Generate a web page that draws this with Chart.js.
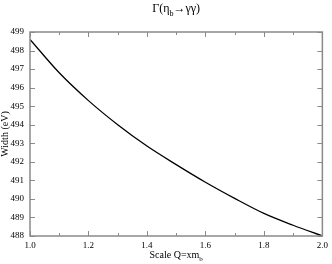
<!DOCTYPE html>
<html><head><meta charset="utf-8">
<script src="https://cdn.jsdelivr.net/npm/chart.js@4/dist/chart.umd.min.js"></script>
<style>html,body{margin:0;padding:0;background:#fff}#c{display:block}</style>
</head><body>
<canvas id="c" width="332" height="264"></canvas>
<script>
const scaleQ = [1.0, 1.1, 1.2, 1.3, 1.4, 1.5, 1.6, 1.7, 1.8, 1.9, 2.0];
const widthEV = [498.6, 496.8, 495.3, 494.0, 492.85, 491.85, 490.9, 490.03, 489.22, 488.58, 488.0];
const xMajorTicks = [1.0, 1.2, 1.4, 1.6, 1.8, 2.0];
const xMinorTicks = [1.1, 1.3, 1.5, 1.7, 1.9];
const yTicks = [488, 489, 490, 491, 492, 493, 494, 495, 496, 497, 498, 499];
const titleMain = ['Γ(η', 'b', '→γγ)'];
const xTitleParts = ['Scale Q=xm', 'b'];
const yTitle = 'Width (eV)';

const SERIF = '"Liberation Serif", "DejaVu Serif", serif';
const FRAME = '#8a8a8a';

function drawSubText(ctx, parts, cx, baseline, size) {
  const mainFont = size + 'px ' + SERIF;
  const subFont = Math.round(size * 0.7) + 'px ' + SERIF;
  let w = 0;
  const segs = parts.map((t, i) => ({t, sub: i % 2 === 1}));
  segs.forEach(s => { ctx.font = s.sub ? subFont : mainFont; s.w = ctx.measureText(s.t).width; w += s.w; });
  let x = cx - w / 2;
  ctx.textAlign = 'left';
  ctx.textBaseline = 'alphabetic';
  segs.forEach(s => {
    ctx.font = s.sub ? subFont : mainFont;
    ctx.fillText(s.t, x, baseline + (s.sub ? size * 0.3 : 0));
    x += s.w;
  });
}

const framePlugin = {
  id: 'frameTicks',
  afterDraw(chart) {
    const {ctx, chartArea: a, scales: {x, y}} = chart;
    ctx.save();
    ctx.strokeStyle = FRAME;
    ctx.lineWidth = 1.5;
    ctx.strokeRect(a.left, a.top, a.right - a.left, a.bottom - a.top);
    ctx.lineWidth = 1;
    ctx.beginPath();
    xMajorTicks.forEach(v => {
      const p = Math.round(x.getPixelForValue(v)) + 0.5;
      ctx.moveTo(p, a.bottom); ctx.lineTo(p, a.bottom - 5);
      ctx.moveTo(p, a.top); ctx.lineTo(p, a.top + 5);
    });
    xMinorTicks.forEach(v => {
      const p = Math.round(x.getPixelForValue(v)) + 0.5;
      ctx.moveTo(p, a.bottom); ctx.lineTo(p, a.bottom - 3);
      ctx.moveTo(p, a.top); ctx.lineTo(p, a.top + 3);
    });
    yTicks.forEach(v => {
      const p = Math.round(y.getPixelForValue(v)) + 0.5;
      ctx.moveTo(a.left, p); ctx.lineTo(a.left + 5, p);
      ctx.moveTo(a.right, p); ctx.lineTo(a.right - 5, p);
    });
    ctx.stroke();

    ctx.fillStyle = '#000';
    const cx = (a.left + a.right) / 2;
    drawSubText(ctx, titleMain, cx, 12, 12);
    drawSubText(ctx, xTitleParts, cx, 258, 10);
    ctx.save();
    ctx.translate(5, (a.top + a.bottom) / 2);
    ctx.rotate(-Math.PI / 2);
    ctx.font = '10px ' + SERIF;
    ctx.textAlign = 'center';
    ctx.textBaseline = 'middle';
    ctx.fillText(yTitle, 0, 0);
    ctx.restore();
    ctx.restore();
  }
};

new Chart(document.getElementById('c'), {
  type: 'line',
  data: {
    datasets: [{
      data: scaleQ.map((q, i) => ({x: q, y: widthEV[i]})),
      borderColor: '#000',
      borderWidth: 1.3,
      pointRadius: 0,
      cubicInterpolationMode: 'monotone',
      fill: false
    }]
  },
  options: {
    responsive: false,
    devicePixelRatio: 1,
    animation: false,
    layout: {padding: {left: 0, right: 7, top: 32, bottom: 0}},
    plugins: {legend: {display: false}, title: {display: false}, tooltip: {enabled: false}},
    scales: {
      x: {
        type: 'linear', min: 1.0, max: 2.0,
        afterFit: s => { s.height = 28; },
        grid: {display: false, drawTicks: false},
        border: {display: false},
        ticks: {
          stepSize: 0.2, padding: 4, color: '#000', maxRotation: 0,
          font: {family: SERIF, size: 9},
          callback: v => Number(v).toFixed(1)
        }
      },
      y: {
        type: 'linear', min: 488, max: 499,
        afterFit: s => { s.width = 30; },
        grid: {display: false, drawTicks: false},
        border: {display: false},
        ticks: {
          stepSize: 1, padding: 6, color: '#000',
          font: {family: SERIF, size: 9}
        }
      }
    }
  },
  plugins: [framePlugin]
});
</script>
</body></html>
